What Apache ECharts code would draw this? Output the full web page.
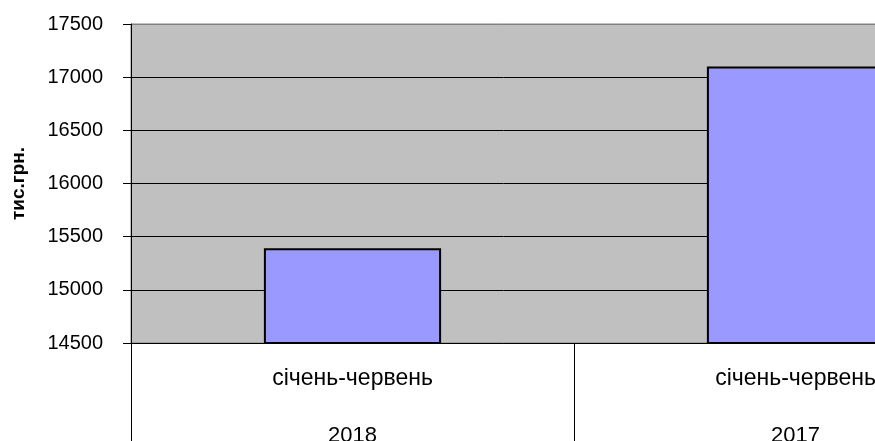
<!DOCTYPE html>
<html>
<head>
<meta charset="utf-8">
<script src="https://cdn.jsdelivr.net/npm/echarts@6/dist/echarts.min.js"></script>
<style>html,body{margin:0;padding:0;background:#fff;}#c{width:875px;height:441px;}</style>
</head>
<body>
<div id="c"></div>
<script>
var years = ['2018', '2017'];
var periods = ['січень-червень', 'січень-червень'];
var values = [15390, 17100];
var yTitle = 'тис.грн.';

var chart = echarts.init(document.getElementById('c'), null, {renderer: 'canvas'});
var font = '"Liberation Sans", Arial, sans-serif';
chart.setOption({
  animation: false,
  grid: {
    left: 131, top: 24, height: 319, width: 886,
    outerBoundsMode: 'none',
    containLabel: false,
    show: true, backgroundColor: '#C0C0C0', borderColor: '#808080', borderWidth: 1
  },
  xAxis: [{
    type: 'category',
    data: years,
    position: 'bottom',
    axisLine: {show: true, lineStyle: {color: '#000', width: 1}},
    axisTick: {show: true, interval: 0, length: 100, lineStyle: {color: '#000', width: 1}},
    axisLabel: {
      interval: 0, margin: 24, fontSize: 23, color: '#000', fontFamily: font,
      formatter: function (v, i) { return periods[i]; }
    },
    splitLine: {show: false}
  }, {
    type: 'category',
    data: years,
    position: 'bottom',
    axisLine: {show: false},
    axisTick: {show: false},
    axisLabel: {interval: 0, margin: 82, fontSize: 22, color: '#000', fontFamily: font},
    splitLine: {show: false}
  }],
  yAxis: {
    type: 'value',
    min: 14500, max: 17500, interval: 500,
    name: yTitle,
    nameLocation: 'middle',
    nameRotate: 90,
    nameGap: 103,
    nameTextStyle: {fontSize: 19, fontWeight: 'bold', color: '#000', fontFamily: font},
    axisLine: {show: true, lineStyle: {color: '#000', width: 1}},
    axisTick: {show: true, inside: false, length: 8, lineStyle: {color: '#000'}},
    axisLabel: {margin: 28, fontSize: 20, color: '#000', fontFamily: font,
      formatter: function (v) { return String(v); }},
    splitLine: {show: true, lineStyle: {color: ['#000', '#000', '#000', '#000', '#000', '#000', '#808080'], width: 1}}
  },
  series: [{
    type: 'bar',
    data: values,
    xAxisIndex: 0,
    barWidth: '40%',
    itemStyle: {color: '#9999FF', borderColor: '#000', borderWidth: 2}
  }]
});
</script>
</body>
</html>
